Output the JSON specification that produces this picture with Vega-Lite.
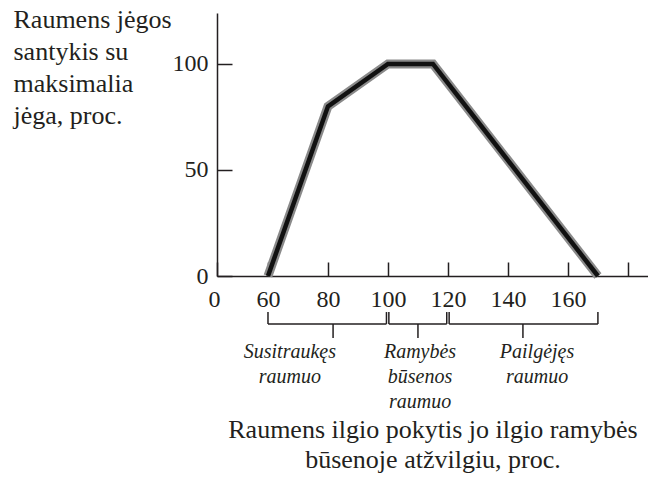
{
  "$schema": "https://vega.github.io/schema/vega-lite/v6.json",
  "autosize": {"type": "none"},
  "padding": {"left": 217, "top": 13, "right": 0, "bottom": 204},
  "width": 431,
  "height": 263,
  "background": "white",
  "config": {
    "view": {"stroke": null},
    "font": "Liberation Serif",
    "axis": {
      "grid": false,
      "domainColor": "#231f20",
      "domainWidth": 1.5,
      "tickColor": "#231f20",
      "tickWidth": 1.5,
      "labelColor": "#231f20",
      "labelFont": "Liberation Serif",
      "labelFontSize": 24,
      "titleColor": "#231f20",
      "titleFont": "Liberation Serif",
      "titleFontWeight": "normal",
      "titleFontSize": 26
    }
  },
  "datasets": {
    "curve": [
      {"length": 60, "force": 0},
      {"length": 80, "force": 80},
      {"length": 100, "force": 100},
      {"length": 115, "force": 100},
      {"length": 170, "force": 0}
    ],
    "brackets": [
      {"x": 60, "x2": 99.5, "y": -22.6, "y2": -22.6},
      {"x": 100.3, "x2": 119.6, "y": -22.6, "y2": -22.6},
      {"x": 120.4, "x2": 170, "y": -22.6, "y2": -22.6},
      {"x": 60, "x2": 60, "y": -22.6, "y2": -17},
      {"x": 99.5, "x2": 99.5, "y": -22.6, "y2": -17},
      {"x": 100.3, "x2": 100.3, "y": -22.6, "y2": -17},
      {"x": 119.6, "x2": 119.6, "y": -22.6, "y2": -17},
      {"x": 120.4, "x2": 120.4, "y": -22.6, "y2": -17},
      {"x": 170, "x2": 170, "y": -22.6, "y2": -17},
      {"x": 81.7, "x2": 81.7, "y": -22.6, "y2": -29.2},
      {"x": 110, "x2": 110, "y": -22.6, "y2": -29.2},
      {"x": 145, "x2": 145, "y": -22.6, "y2": -29.2}
    ],
    "labels": [
      {"x": 67.3, "y": -38.7, "label": "Susitraukęs\nraumuo"},
      {"x": 110.7, "y": -38.7, "label": "Ramybės\nbūsenos\nraumuo"},
      {"x": 149.7, "y": -38.7, "label": "Pailgėjęs\nraumuo"}
    ]
  },
  "layer": [
    {
      "data": {"name": "curve"},
      "mark": {"type": "line", "color": "#8a8a8a", "strokeWidth": 9, "strokeJoin": "miter"},
      "encoding": {
        "x": {
          "field": "length", "type": "quantitative",
          "scale": {"domain": [43, 186.7], "nice": false, "zero": false},
          "axis": {
            "values": [43, 60, 80, 100, 120, 140, 160, 180],
            "labelExpr": "datum.value == 43 ? '0' : datum.value == 180 ? '' : datum.label",
            "labelFlush": false,
            "labelOffset": {"condition": {"test": "datum.value == 43", "value": -3}, "value": 0},
            "tickSize": -14,
            "labelPadding": 25,
            "labelBaseline": "top",
            "title": ["Raumens ilgio pokytis jo ilgio ramybės", "būsenoje atžvilgiu, proc."],
            "titleBaseline": "alphabetic",
            "titleY": 161,
            "titleLineHeight": 30
          }
        },
        "y": {
          "field": "force", "type": "quantitative",
          "scale": {"domain": [0, 124], "nice": false},
          "axis": {
            "values": [0, 50, 100],
            "tickSize": -15,
            "labelPadding": 24,
            "labelBaseline": "middle",
            "title": ["Raumens jėgos", "santykis su", "maksimalia", "jėga, proc."],
            "titleAngle": 0,
            "titleAlign": "left",
            "titleBaseline": "alphabetic",
            "titleX": -204,
            "titleY": 14,
            "titleLineHeight": 32
          }
        }
      }
    },
    {
      "data": {"name": "curve"},
      "mark": {"type": "line", "color": "#111111", "strokeWidth": 4.5, "strokeJoin": "miter"},
      "encoding": {
        "x": {"field": "length", "type": "quantitative"},
        "y": {"field": "force", "type": "quantitative"}
      }
    },
    {
      "data": {"name": "brackets"},
      "mark": {"type": "rule", "color": "#231f20", "strokeWidth": 1.5},
      "encoding": {
        "x": {"field": "x", "type": "quantitative"},
        "x2": {"field": "x2"},
        "y": {"field": "y", "type": "quantitative"},
        "y2": {"field": "y2"}
      }
    },
    {
      "data": {"name": "labels"},
      "mark": {"type": "text", "font": "Liberation Serif", "fontStyle": "italic", "fontSize": 20, "align": "center", "baseline": "alphabetic", "lineBreak": "\n", "lineHeight": 25, "color": "#231f20"},
      "encoding": {
        "x": {"field": "x", "type": "quantitative"},
        "y": {"field": "y", "type": "quantitative"},
        "text": {"field": "label", "type": "nominal"}
      }
    }
  ]
}
